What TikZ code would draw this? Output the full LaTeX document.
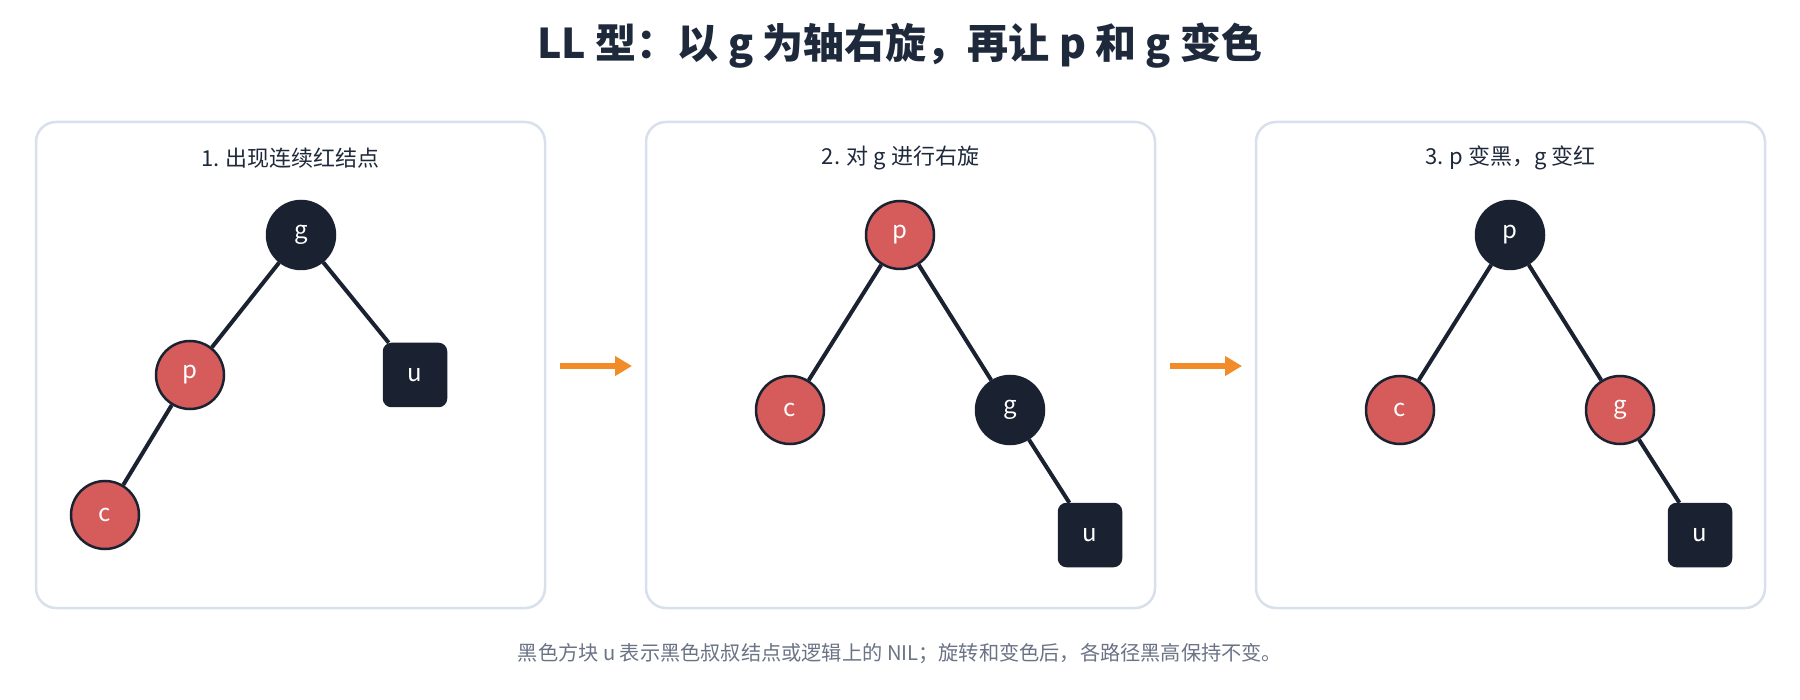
\documentclass[tikz,border=0pt]{standalone}
\usepackage{fontspec}
\setmainfont{Noto Sans CJK SC}
\usetikzlibrary{arrows.meta}
\definecolor{navy}{HTML}{1A2130}
\definecolor{redn}{HTML}{D65C5C}
\definecolor{panelb}{HTML}{D8E0EC}
\definecolor{orangea}{HTML}{F28C28}
\definecolor{titlec}{HTML}{1E293B}
\definecolor{capc}{HTML}{6B7385}
\tikzset{
  panel/.style={draw=panelb, line width=2.5pt, rounded corners=20pt, fill=white},
  ptitle/.style={text=titlec, font=\fontsize{22}{26}\selectfont},
  rb/.style={circle, minimum size=68pt, inner sep=0pt, line width=2.5pt, draw=navy, text=white, font=\fontsize{24}{28}\selectfont},
  rednode/.style={rb, fill=redn},
  blacknode/.style={rb, fill=navy},
  nilnode/.style={rectangle, rounded corners=8pt, minimum size=63pt, inner sep=0pt, line width=1.5pt, draw=navy, fill=navy, text=white, font=\fontsize{24}{28}\selectfont},
  edge/.style={draw=navy, line width=4pt},
  stepar/.style={draw=orangea, line width=5.5pt, -{Triangle[length=17pt,width=19pt]}},
}
\begin{document}
\begin{tikzpicture}[x=1pt,y=-1pt]
\useasboundingbox (0,0) rectangle (1800,700);
\fill[white] (0,0) rectangle (1800,700);
\node[text=titlec, font=\fontsize{41}{49}\selectfont\bfseries] (title) at (900,46) {LL 型：以 g 为轴右旋，再让 p 和 g 变色};
% panels
\draw[panel] (36,122) rectangle (545,608);
\draw[panel] (646,122) rectangle (1155,608);
\draw[panel] (1256,122) rectangle (1765,608);
\node[ptitle] (t1) at (290.5,158) {1. 出现连续红结点};
\node[ptitle] (t2) at (900.5,158) {2. 对 g 进行右旋};
\node[ptitle] (t3) at (1510.5,158) {3. p 变黑，g 变红};
% panel 1
\node[blacknode] (g1) at (301,235) {g};
\node[rednode] (p1) at (190,375) {p};
\node[rednode] (c1) at (105,515) {c};
\node[nilnode] (u1) at (415,375) {u};
\draw[edge] (g1) -- (p1);
\draw[edge] (p1) -- (c1);
\draw[edge] (g1) -- (u1);
% panel 2
\node[rednode] (p2) at (900,235) {p};
\node[rednode] (c2) at (790,410) {c};
\node[blacknode] (g2) at (1010,410) {g};
\node[nilnode] (u2) at (1090,535) {u};
\draw[edge] (p2) -- (c2);
\draw[edge] (p2) -- (g2);
\draw[edge] (g2) -- (u2);
% panel 3
\node[blacknode] (p3) at (1510,235) {p};
\node[rednode] (c3) at (1400,410) {c};
\node[rednode] (g3) at (1620,410) {g};
\node[nilnode] (u3) at (1700,535) {u};
\draw[edge] (p3) -- (c3);
\draw[edge] (p3) -- (g3);
\draw[edge] (g3) -- (u3);
% arrows
\coordinate (a1s) at (560,366);
\coordinate (a1e) at (632,366);
\coordinate (a2s) at (1170,366);
\coordinate (a2e) at (1242,366);
\draw[stepar] (a1s) -- (a1e);
\draw[stepar] (a2s) -- (a2e);
\node[text=capc, font=\fontsize{20.2}{24}\selectfont] (cap) at (900,654) {黑色方块 u 表示黑色叔叔结点或逻辑上的 NIL；旋转和变色后，各路径黑高保持不变。};
\end{tikzpicture}
\end{document}
